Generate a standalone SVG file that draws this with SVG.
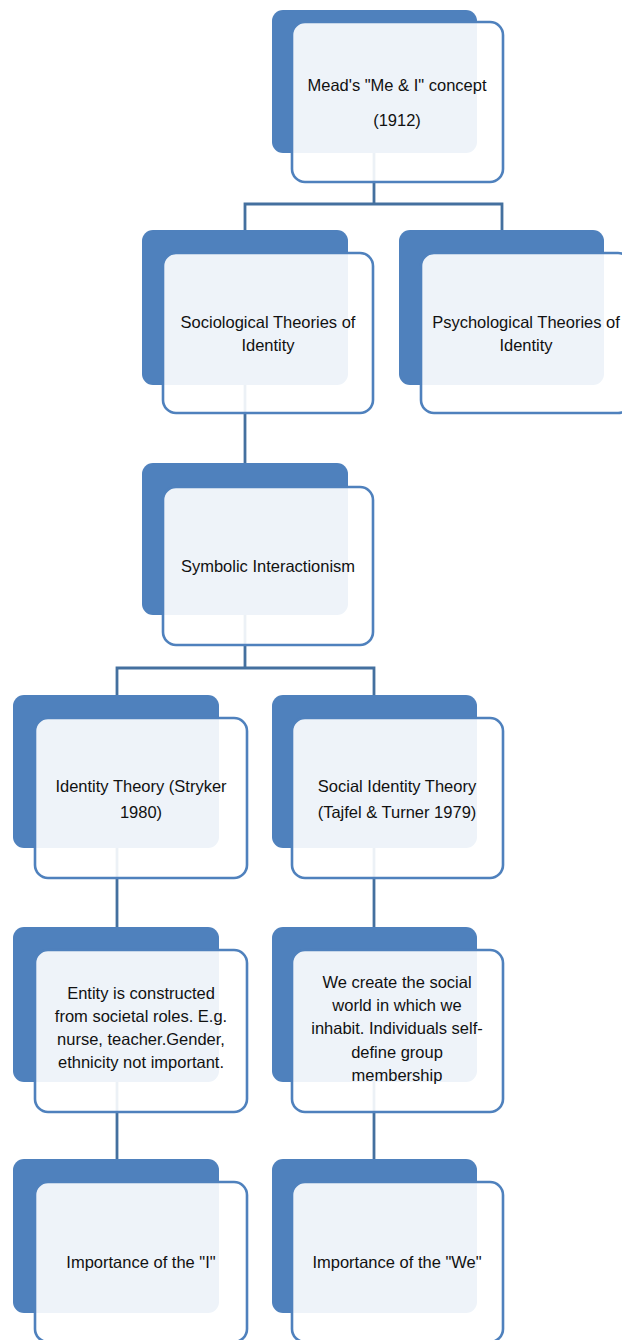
<svg xmlns="http://www.w3.org/2000/svg" width="622" height="1340" viewBox="0 0 622 1340">
<style>
.back{fill:#4f81bd;}
.front{fill:#ffffff;fill-opacity:0.9;stroke:#4f81bd;stroke-width:2.6;}
.conn{fill:none;stroke:#44709f;stroke-width:2.8;}
text{font-family:"Liberation Sans",Arial,sans-serif;font-size:16.5px;fill:#111111;text-anchor:middle;}
</style>
<rect width="622" height="1340" fill="#ffffff"/>
<g id="connectors">
<path class="conn" d="M374,153 V204 M245,230 V204 H502 V230"/>
<path class="conn" d="M245,385 V463"/>
<path class="conn" d="M245,615 V668 M117,695 V668 H374 V695"/>
<path class="conn" d="M117,848 V927"/>
<path class="conn" d="M374,848 V927"/>
<path class="conn" d="M117,1082 V1159"/>
<path class="conn" d="M374,1082 V1159"/>
</g>
<g id="mead">
<rect class="back" x="272" y="10" width="205" height="143" rx="11"/>
<rect class="front" x="292" y="22" width="211" height="160" rx="13"/>
<text x="397" y="91">Mead's "Me &amp; I" concept</text>
<text x="397" y="126">(1912)</text>
</g>
<g id="sociological">
<rect class="back" x="142" y="230" width="206" height="155" rx="11"/>
<rect class="front" x="163" y="253" width="210" height="160" rx="13"/>
<text x="268" y="328">Sociological Theories of</text>
<text x="268" y="351">Identity</text>
</g>
<g id="psychological">
<rect class="back" x="399" y="230" width="205" height="155" rx="11"/>
<rect class="front" x="421" y="253" width="210" height="160" rx="13"/>
<text x="526" y="328">Psychological Theories of</text>
<text x="526" y="351">Identity</text>
</g>
<g id="symbolic">
<rect class="back" x="142" y="463" width="206" height="152" rx="11"/>
<rect class="front" x="163" y="487" width="210" height="158" rx="13"/>
<text x="268" y="572">Symbolic Interactionism</text>
</g>
<g id="identity-theory">
<rect class="back" x="13" y="695" width="206" height="153" rx="11"/>
<rect class="front" x="35" y="718" width="212" height="160" rx="13"/>
<text x="141" y="792">Identity Theory (Stryker</text>
<text x="141" y="818">1980)</text>
</g>
<g id="social-identity-theory">
<rect class="back" x="272" y="695" width="205" height="153" rx="11"/>
<rect class="front" x="292" y="718" width="211" height="160" rx="13"/>
<text x="397" y="792">Social Identity Theory</text>
<text x="397" y="818">(Tajfel &amp; Turner 1979)</text>
</g>
<g id="entity">
<rect class="back" x="13" y="927" width="206" height="155" rx="11"/>
<rect class="front" x="35" y="950" width="212" height="162" rx="13"/>
<text x="141" y="999">Entity is constructed</text>
<text x="141" y="1022">from societal roles. E.g.</text>
<text x="141" y="1045">nurse, teacher.Gender,</text>
<text x="141" y="1068">ethnicity not important.</text>
</g>
<g id="we-create">
<rect class="back" x="272" y="927" width="205" height="155" rx="11"/>
<rect class="front" x="292" y="950" width="211" height="162" rx="13"/>
<text x="397" y="988">We create the social</text>
<text x="397" y="1011">world in which we</text>
<text x="397" y="1034">inhabit. Individuals self-</text>
<text x="397" y="1058">define group</text>
<text x="397" y="1081">membership</text>
</g>
<g id="importance-i">
<rect class="back" x="13" y="1159" width="206" height="154" rx="11"/>
<rect class="front" x="35" y="1182" width="212" height="160" rx="13"/>
<text x="141" y="1268">Importance of the "I"</text>
</g>
<g id="importance-we">
<rect class="back" x="272" y="1159" width="205" height="154" rx="11"/>
<rect class="front" x="292" y="1182" width="211" height="160" rx="13"/>
<text x="397" y="1268">Importance of the "We"</text>
</g>
</svg>
